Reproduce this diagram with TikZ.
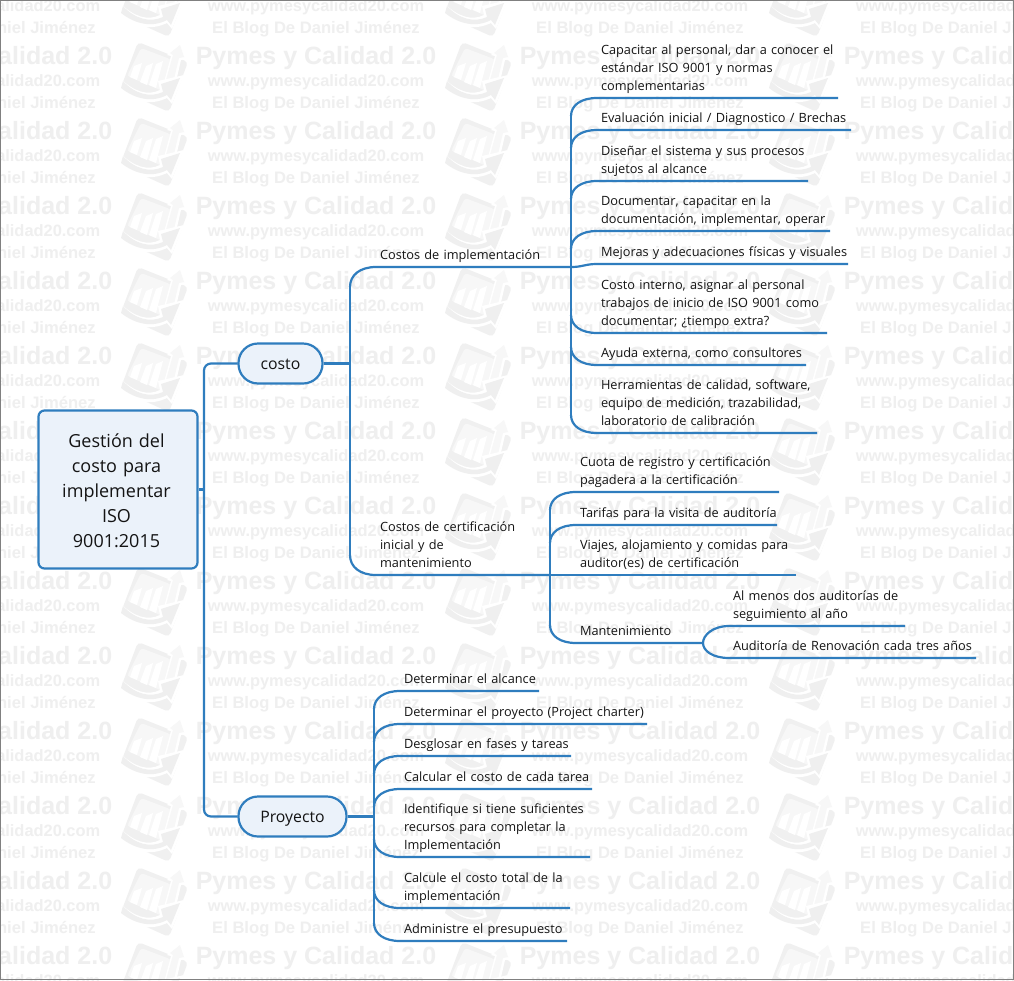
\documentclass[tikz,border=0pt]{standalone}
\usepackage{fontspec}
\setmainfont{Open Sans}
\newfontfamily\wmfont[BoldFont=Liberation Sans Bold]{Liberation Sans}
\usetikzlibrary{calc}
\definecolor{linkblue}{HTML}{2F7DBE}
\definecolor{boxfill}{HTML}{EBF2FA}
\definecolor{wmc}{HTML}{EFEFEF}
\definecolor{wmi}{HTML}{F0F0F0}
\definecolor{wml}{HTML}{F7F7F7}
\definecolor{framec}{HTML}{808080}
\definecolor{inkc}{HTML}{141414}
\tikzset{
  conn/.style={draw=linkblue,line width=2.2pt},
  rootbox/.style={draw=linkblue,line width=2.2pt,fill=boxfill,rounded corners=6pt,minimum width=159pt,minimum height=158pt,outer sep=1pt,align=center,text width=150pt,text=inkc,font=\fontsize{18}{25}\selectfont,execute at begin node={\leftskip=0pt plus 1fil\rightskip=3pt plus 1fil\parfillskip=0pt\relax}},
  pill/.style={draw=linkblue,line width=2.2pt,fill=boxfill,rounded corners=19.5pt,minimum height=40pt,outer sep=1pt,text height=15pt,text depth=3.5pt,text=inkc,font=\fontsize{15.8}{18}\selectfont},
  leafnode/.style={anchor=south west,inner xsep=0pt,inner ysep=1.8pt,outer sep=0pt,align=left,text=inkc,font=\fontsize{12.75}{18}\selectfont,execute at begin node={\leftskip=4pt\relax}},
  wma/.style={anchor=base,text=wmc,inner sep=0pt,font=\wmfont\bfseries\fontsize{25}{26}\selectfont},
  wmb/.style={anchor=base,text=wmc,inner sep=0pt,font=\wmfont\bfseries\fontsize{16.4}{24}\selectfont},
  wmd/.style={anchor=base,text=wmc,inner sep=0pt,font=\wmfont\bfseries\fontsize{16.6}{24}\selectfont},
}
\newcommand{\leafat}[5]{\node[leafnode,text width={(#4-#2)*1pt}] (#1) at (#2,#3) {#5\strut};}
\newcommand{\brup}[3]{\draw[conn] (#1.south east) -- (#1.south west) .. controls ($(#1.south west)+(-16,0)$) and ($(#2 |- #1.south)+(0,#3*0.4)$) .. ($(#2 |- #1.south)+(0,#3)$);}
\newcommand{\wmicon}{%
  \fill[wmi,rounded corners=4pt] (18,0)--(68,20)--(49,70)--(0,48)--cycle;
  \fill[wml,rounded corners=3pt] (21,6)--(50,17)--(57,24)--(45,50)--(7,34)--cycle;
  \fill[white] (14,24)--(22,21)--(17,38)--(10,35)--cycle;
  \fill[white] (26,24)--(33,21)--(27,43)--(20,40)--cycle;
  \fill[white] (36,22)--(43,19)--(36,46)--(29,43)--cycle;
  \fill[white] (60,0)--(66,17)--(61,18)--(55,44)--(44,40)--(51,14)--(47,13)--cycle;
  \fill[wml] (60,3)--(64,15)--(59,16)--(53,41)--(46,38)--(53,13)--(50,11)--cycle;
  \fill[white] (0,36)..controls (14,50) and (28,54) .. (40,48)--(38,39)--(64,33)--(52,62)--(47,56)..controls (30,64) and (14,60) .. (0,50)--cycle;
  \fill[wmc] (3,39)..controls (15,52) and (30,56) .. (43,50)--(41,42)--(60,36)--(51,58)--(47,53)..controls (32,61) and (15,57) .. (1,46)--cycle;
}
\begin{document}
\begin{tikzpicture}[x=1pt,y=-1pt]
\useasboundingbox (0,0) rectangle (1014,980);
\fill[white] (0,0) rectangle (1014,980);
\begin{scope}
\clip (0,0) rectangle (1014,980);
\foreach \k in {-1,0,1,2}{
  \foreach \j in {-1,...,12}{
    \pgfmathsetmacro{\tx}{316+324*\k}
    \pgfmathsetmacro{\ty}{64+75*\j}
    \node[wma] (wmA\k\j) at (\tx,\ty) {Pymes y Calidad 2.0};
    \node[wmb] (wmB\k\j) at (\tx,\ty+22) {www.pymesycalidad20.com};
    \node[wmd] (wmD\k\j) at (\tx,\ty+44) {El Blog De Daniel Jiménez};
    \begin{scope}[shift={(\tx-196,\ty-22)}]
      \wmicon
    \end{scope}
  }
}
\end{scope}
\draw[framec,line width=1.5pt] (0.5,0.5) rectangle (1013.5,979.5);

\node[rootbox] (root) at (118,489.5) {\rule{0pt}{15.5pt}Gestión del\\costo para\\implementar\\ISO\\9001:2015};
\node[pill,minimum width=84pt] (costo) at (280.5,363.5) {costo};
\node[pill,minimum width=108pt] (proy) at (292.5,816.5) {Proyecto};

\leafat{n1}{376}{267}{571}{Costos de implementación}
\leafat{n2}{376}{575}{550}{Costos de certificación\\inicial y de\\mantenimiento}

\leafat{a1}{597}{98}{838}{Capacitar al personal, dar a conocer el\\estándar ISO 9001 y normas\\complementarias}
\leafat{a2}{597}{130}{851}{Evaluación inicial / Diagnostico / Brechas}
\leafat{a3}{597}{181}{808}{Diseñar el sistema y sus procesos\\sujetos al alcance}
\leafat{a4}{597}{231}{830}{Documentar, capacitar en la\\documentación, implementar, operar}
\leafat{a5}{597}{264}{848}{Mejoras y adecuaciones físicas y visuales}
\leafat{a6}{597}{333}{827}{Costo interno, asignar al personal\\trabajos de inicio de ISO 9001 como\\documentar; ¿tiempo extra?}
\leafat{a7}{597}{365}{806}{Ayuda externa, como consultores}
\leafat{a8}{597}{433}{817}{Herramientas de calidad, software,\\equipo de medición, trazabilidad,\\laboratorio de calibración}

\leafat{b1}{576}{492}{779}{Cuota de registro y certificación\\pagadera a la certificación}
\leafat{b2}{576}{525}{777}{Tarifas para la visita de auditoría}
\leafat{b3}{576}{575}{796}{Viajes, alojamiento y comidas para\\auditor(es) de certificación}
\leafat{b4}{576}{643}{703}{Mantenimiento}
\leafat{c1}{729}{626}{905}{Al menos dos auditorías de\\seguimiento al año}
\leafat{c2}{729}{658}{976}{Auditoría de Renovación cada tres años}

\leafat{d1}{400}{691}{539}{Determinar el alcance}
\leafat{d2}{400}{724}{647}{Determinar el proyecto (Project charter)}
\leafat{d3}{400}{756}{571}{Desglosar en fases y tareas}
\leafat{d4}{400}{789}{592}{Calcular el costo de cada tarea}
\leafat{d5}{400}{857}{590}{Identifique si tiene suficientes\\recursos para completar la\\Implementación}
\leafat{d6}{400}{908}{570}{Calcule el costo total de la\\implementación}
\leafat{d7}{400}{941}{567}{Administre el presupuesto}

\coordinate (hubA) at (204,489.5);
\coordinate (hubB) at (350,363.5);
\coordinate (hubC) at (571,267);
\coordinate (hubD) at (550,575);
\coordinate (hubE) at (703,643);
\coordinate (hubF) at (374,816.5);

\draw[conn] (root.east) -- (hubA);
\draw[conn,rounded corners=7pt] (costo.west) -- (hubA |- costo.west) -- (hubA |- proy.west) -- (proy.west);
\draw[conn] (costo.east) -- (hubB);
\draw[conn] (proy.east) -- (hubF);

\brup{n1}{hubB}{20}
\brup{n2}{hubB}{-20}
\draw[conn] ($(hubB |- n1.south)+(0,20)$) -- ($(hubB |- n2.south)+(0,-20)$);

\brup{a1}{hubC}{18}
\brup{a2}{hubC}{18}
\brup{a3}{hubC}{18}
\brup{a4}{hubC}{18}
\draw[conn] (a5.south east) -- (a5.south west) .. controls ($(a5.south west)+(-12,0)$) and ($(hubC)+(12,0)$) .. (hubC);
\brup{a6}{hubC}{-18}
\brup{a7}{hubC}{-18}
\brup{a8}{hubC}{-18}
\draw[conn] ($(hubC |- a1.south)+(0,18)$) -- ($(hubC |- a8.south)+(0,-18)$);

\brup{b1}{hubD}{18}
\brup{b2}{hubD}{18}
\draw[conn] (b3.south east) -- (hubD);
\brup{b4}{hubD}{-18}
\draw[conn] ($(hubD |- b1.south)+(0,18)$) -- ($(hubD |- b4.south)+(0,-18)$);

\draw[conn] (c1.south east) -- (c1.south west) .. controls ($(c1.south west)+(-16,0)$) and ($(hubE)+(0,-8)$) .. (hubE);
\draw[conn] (c2.south east) -- (c2.south west) .. controls ($(c2.south west)+(-16,0)$) and ($(hubE)+(0,8)$) .. (hubE);

\brup{d1}{hubF}{18}
\brup{d2}{hubF}{18}
\brup{d3}{hubF}{18}
\brup{d4}{hubF}{18}
\brup{d5}{hubF}{-18}
\brup{d6}{hubF}{-18}
\brup{d7}{hubF}{-18}
\draw[conn] ($(hubF |- d1.south)+(0,18)$) -- ($(hubF |- d7.south)+(0,-18)$);
\end{tikzpicture}
\end{document}
